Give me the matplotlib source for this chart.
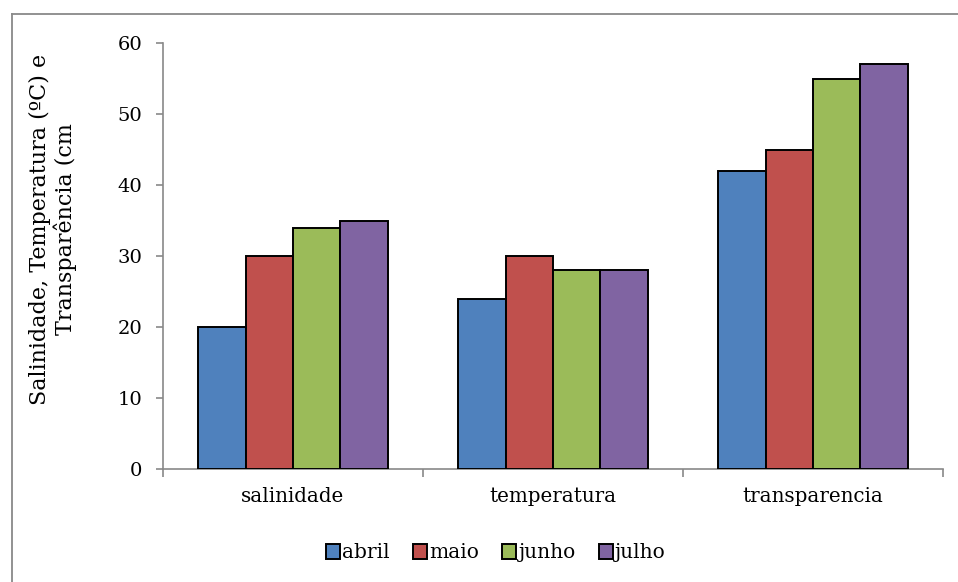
import numpy as np
import matplotlib.pyplot as plt
from matplotlib.patches import Rectangle
from matplotlib.lines import Line2D

plt.rcParams['font.family'] = ['DejaVu Serif']

categories = ['salinidade', 'temperatura', 'transparencia']
months = ['abril', 'maio', 'junho', 'julho']
abril = [20, 24, 42]
maio = [30, 30, 45]
junho = [34, 28, 55]
julho = [35, 28, 57]
colors = ['#4F81BD', '#C0504D', '#9BBB59', '#8064A2']

fig = plt.figure(figsize=(9.58, 5.82), dpi=100)
W, H = 958, 582
ax = fig.add_axes([163 / W, 1 - 469 / H, (943 - 163) / W, (469 - 43) / H])

# outer chart frame (only left/top edges visible)
fig.add_artist(Line2D([11.5 / W, 11.5 / W], [0, 1 - 14 / H], transform=fig.transFigure,
                      color='#898989', lw=1.3))
fig.add_artist(Line2D([11.5 / W, 1], [1 - 14 / H, 1 - 14 / H], transform=fig.transFigure,
                      color='#898989', lw=1.3))

x = np.arange(len(categories))
group = 0.727
bw = group / 4
for i, vals in enumerate([abril, maio, junho, julho]):
    ax.bar(x - group / 2 + bw * (i + 0.5), vals, width=bw, color=colors[i],
           edgecolor='black', linewidth=1.4, label=months[i], zorder=3)

ax.set_xlim(-0.5, 2.5)
ax.set_ylim(0, 60)
ax.set_yticks(range(0, 61, 10))
ax.set_xticks([-0.5, 0.5, 1.5, 2.5])
ax.set_xticklabels([])
ax.set_xticks(x, minor=True)
ax.set_xticklabels(categories, minor=True, fontsize=14.3)
ax.tick_params(axis='x', which='minor', length=0, pad=13)
ax.tick_params(axis='x', which='major', length=6, color='#898989', width=1.2, direction='out')
ax.tick_params(axis='y', length=5, color='#898989', width=1.2, labelsize=14, pad=10)

for s in ['top', 'right']:
    ax.spines[s].set_visible(False)
for s in ['left', 'bottom']:
    ax.spines[s].set_color('#898989')
    ax.spines[s].set_linewidth(1.2)

fig.text(53 / W, 1 - 229 / H, 'Salinidade, Temperatura (ºC) e\nTranspar\u00eancia (cm',
         rotation=90, ha='center', va='center', multialignment='center',
         fontsize=16, linespacing=1.1)

handles = [Rectangle((0, 0), 1, 1, facecolor=c, edgecolor='black', lw=1.4) for c in colors]
fig.legend(handles, months, loc='center', bbox_to_anchor=(496 / W, 1 - 553 / H),
           ncol=4, frameon=False, fontsize=14.5, handlelength=0.7, handleheight=0.7,
           handletextpad=0.1, columnspacing=1.15)

fig.savefig('out.png', dpi=100)
